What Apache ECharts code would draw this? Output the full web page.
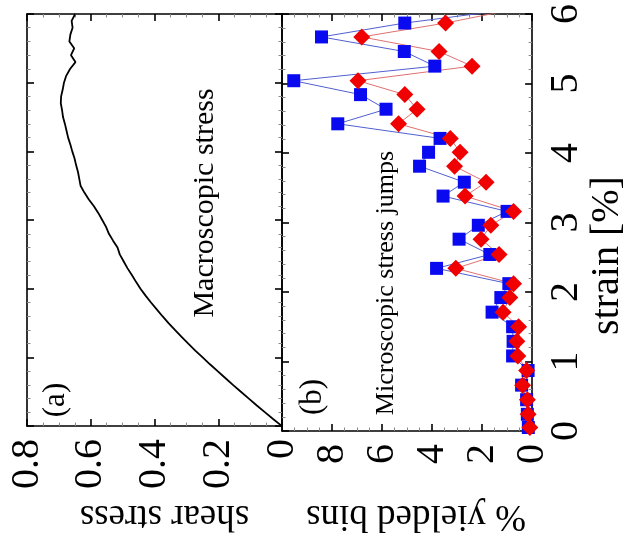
<!DOCTYPE html>
<html>
<head>
<meta charset="utf-8">
<script src="https://cdn.jsdelivr.net/npm/echarts@6/dist/echarts.min.js"></script>
<style>
  html, body { margin: 0; padding: 0; background: #fff; }
  #chart { width: 628px; height: 539px; }
</style>
</head>
<body>
<div id="chart"></div>
<script>
// Panel (a): macroscopic shear stress sampled every 0.1 % strain
const stressStrain = [
  0.0, 0.1, 0.2, 0.3, 0.4, 0.5, 0.6, 0.7, 0.8, 0.9,
  1.0, 1.1, 1.2, 1.3, 1.4, 1.5, 1.6, 1.7, 1.8, 1.9,
  2.0, 2.1, 2.2, 2.3, 2.4, 2.5, 2.6, 2.7, 2.8, 2.9,
  3.0, 3.1, 3.2, 3.3, 3.4, 3.5, 3.6, 3.7, 3.8, 3.9,
  4.0, 4.1, 4.2, 4.3, 4.4, 4.5, 4.6, 4.7, 4.8, 4.9,
  5.0, 5.1, 5.2, 5.3, 5.4, 5.5, 5.6, 5.7, 5.8, 5.9, 6.0
];
const shearStress = [
  0.000, 0.027, 0.053, 0.079, 0.104, 0.129, 0.154, 0.178, 0.202, 0.226,
  0.249, 0.272, 0.294, 0.315, 0.336, 0.356, 0.375, 0.393, 0.411, 0.428,
  0.444, 0.458, 0.471, 0.485, 0.497, 0.509, 0.516, 0.530, 0.543, 0.552,
  0.564, 0.576, 0.590, 0.606, 0.620, 0.632, 0.636, 0.640, 0.646, 0.651,
  0.658, 0.664, 0.671, 0.676, 0.681, 0.687, 0.690, 0.694, 0.693, 0.688,
  0.684, 0.677, 0.665, 0.648, 0.662, 0.652, 0.667, 0.664, 0.657, 0.660, 0.649
];

// Panel (b): percentage of yielded bins per strain window
const binStrain = [
  0.05, 0.24, 0.45, 0.66, 0.87, 1.08, 1.29, 1.50, 1.71, 1.92,
  2.12, 2.34, 2.54, 2.76, 2.96, 3.16, 3.38, 3.58, 3.81, 4.01,
  4.21, 4.42, 4.63, 4.84, 5.04, 5.25, 5.46, 5.67, 5.87, 6.08
];
const yieldedBlue = [
  0.15, 0.19, 0.22, 0.42, 0.16, 0.78, 0.76, 0.78, 1.60, 1.25,
  0.93, 3.82, 1.69, 2.92, 2.15, 1.00, 3.56, 2.71, 4.50, 4.14,
  3.68, 7.77, 5.84, 6.86, 9.53, 3.89, 5.11, 8.42, 5.09, 0.56
];
const yieldedRed = [
  0.09, 0.16, 0.19, 0.38, 0.22, 0.57, 0.61, 0.54, 1.16, 0.89,
  0.74, 3.05, 1.32, 2.04, 1.65, 0.74, 2.68, 1.84, 3.10, 2.88,
  3.27, 5.34, 4.60, 5.09, 6.96, 2.40, 3.72, 6.81, 3.46, 0.55
];

const stressTicks = [0, 0.2, 0.4, 0.6, 0.8];
const binTicks = [0, 2, 4, 6, 8, 10];
const strainTicks = [0, 1, 2, 3, 4, 5, 6];

const FONT = 'Liberation Serif';
const pairs = (ys, xs) => ys.map((y, i) => [xs[i], y]);

const frameLine = { show: true, onZero: false, lineStyle: { color: '#000', width: 1.6 } };
const tickIn = { show: true, inside: true, length: 7, lineStyle: { color: '#000', width: 1.6 } };
const minorIn = (n) => ({ show: true, splitNumber: n, length: 3.5, lineStyle: { color: '#888', width: 1 } });
// tick numbers go through a rich style so the serif face is applied to them
const tickRich = { t: { fontFamily: FONT, fontSize: 40, color: '#000' } };
const tickLabel = (fmt) => ({
  show: true, rotate: 90, margin: 13, fontFamily: FONT, fontSize: 40, color: '#000',
  formatter: v => { const s = fmt(v); return s ? '{t|' + s + '}' : ''; },
  rich: tickRich
});

function stressAxis(gridIndex, position, withLabels) {
  return {
    type: 'value', gridIndex, position, inverse: true,
    min: 0, max: stressTicks[stressTicks.length - 1], interval: 0.2,
    axisLine: frameLine, axisTick: tickIn, minorTick: minorIn(4), splitLine: { show: false },
    axisLabel: withLabels ? tickLabel(v => (v === 0 ? '0' : v.toFixed(1))) : { show: false },
    name: withLabels ? 'shear stress' : '',
    nameLocation: 'middle', nameRotate: 180, nameGap: 66,
    nameTextStyle: { fontFamily: FONT, fontSize: 37, color: '#000', padding: [0, 20, 0, 0] }
  };
}

function binAxis(gridIndex, position, withLabels) {
  return {
    type: 'value', gridIndex, position, inverse: true,
    min: 0, max: binTicks[binTicks.length - 1], interval: 2,
    axisLine: frameLine, axisTick: tickIn, minorTick: minorIn(4), splitLine: { show: false },
    axisLabel: withLabels ? tickLabel(v => (v === 10 ? '' : String(v))) : { show: false },
    name: withLabels ? '% yielded bins' : '',
    nameLocation: 'middle', nameRotate: 180, nameGap: 66,
    nameTextStyle: { fontFamily: FONT, fontSize: 37, color: '#000', padding: [0, 18, 0, 0] }
  };
}

function strainAxis(gridIndex, position, withLabels) {
  const label = withLabels ? tickLabel(v => String(v)) : { show: false };
  if (withLabels) label.margin = 14;
  return {
    type: 'value', gridIndex, position,
    min: 0, max: strainTicks[strainTicks.length - 1], interval: 1,
    axisLine: frameLine, axisTick: tickIn, minorTick: minorIn(5), splitLine: { show: false },
    axisLabel: label,
    name: withLabels ? 'strain [%]' : '',
    nameLocation: 'middle', nameRotate: 90, nameGap: 52,
    nameTextStyle: { fontFamily: FONT, fontSize: 40, color: '#000', padding: [0, 66, 0, 0] }
  };
}

const chart = echarts.init(document.getElementById('chart'));
chart.setOption({
  backgroundColor: '#fff',
  animation: false,
  textStyle: { fontFamily: FONT },
  grid: [
    { left: 27, top: 14, width: 255, height: 418, show: false },
    { left: 282, top: 14, width: 257, height: 418, show: false }
  ],
  xAxis: [
    stressAxis(0, 'bottom', true),
    stressAxis(0, 'top', false),
    binAxis(1, 'bottom', true),
    binAxis(1, 'top', false)
  ],
  yAxis: [
    strainAxis(0, 'left', false),
    strainAxis(0, 'right', false),
    strainAxis(1, 'left', false),
    strainAxis(1, 'right', true)
  ],
  series: [
    {
      name: 'shear stress', type: 'line', xAxisIndex: 0, yAxisIndex: 0,
      data: pairs(stressStrain, shearStress), showSymbol: false, symbol: 'none',
      lineStyle: { color: '#000', width: 1.8 }
    },
    {
      name: 'blue', type: 'line', xAxisIndex: 2, yAxisIndex: 3,
      data: pairs(binStrain, yieldedBlue), clip: true,
      symbol: 'rect', symbolSize: 13, showSymbol: true,
      itemStyle: { color: '#0a0af0' },
      lineStyle: { color: '#5060d0', width: 1 }
    },
    {
      name: 'red', type: 'line', xAxisIndex: 2, yAxisIndex: 3,
      data: pairs(binStrain, yieldedRed), clip: true,
      symbol: 'diamond', symbolSize: 17, showSymbol: true,
      itemStyle: { color: '#f00000' },
      lineStyle: { color: '#e07070', width: 1 }
    }
  ],
  graphic: [
    { type: 'text', x: 56, y: 400, rotation: Math.PI / 2,
      style: { text: '(a)', font: '31px "Liberation Serif"', fill: '#000', textAlign: 'center', textVerticalAlign: 'middle' } },
    { type: 'text', x: 205, y: 203, rotation: Math.PI / 2,
      style: { text: 'Macroscopic stress', font: '30px "Liberation Serif"', fill: '#000', textAlign: 'center', textVerticalAlign: 'middle' } },
    { type: 'text', x: 313, y: 397, rotation: Math.PI / 2,
      style: { text: '(b)', font: '31px "Liberation Serif"', fill: '#000', textAlign: 'center', textVerticalAlign: 'middle' } },
    { type: 'text', x: 386, y: 283, rotation: Math.PI / 2,
      style: { text: 'Microscopic stress jumps', font: '26px "Liberation Serif"', fill: '#000', textAlign: 'center', textVerticalAlign: 'middle' } }
  ]
});
</script>
</body>
</html>
